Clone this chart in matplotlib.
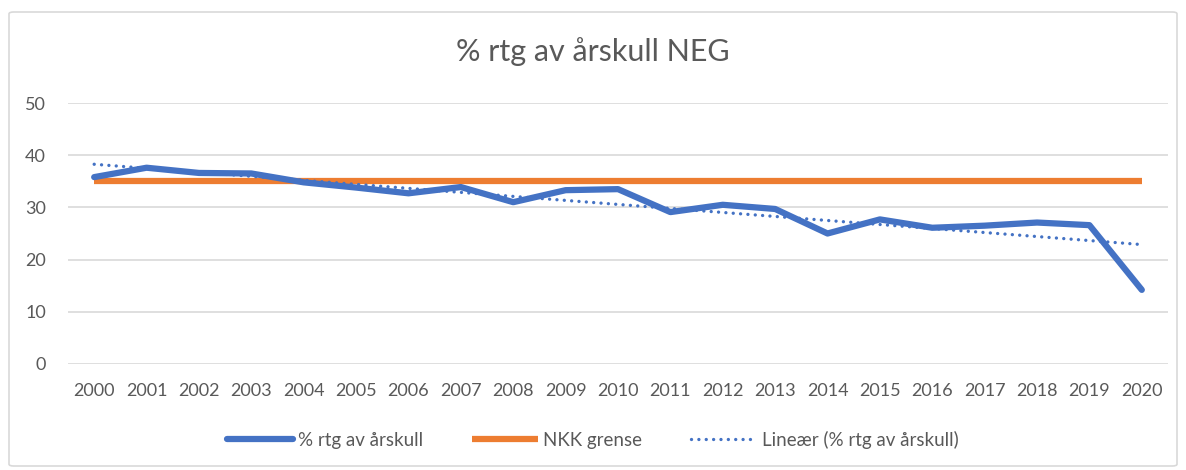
import numpy as np
import matplotlib
matplotlib.use("Agg")
import matplotlib.pyplot as plt
from matplotlib.patches import FancyBboxPatch

plt.rcParams['font.family'] = ['Lato', 'DejaVu Sans']

years = [str(y) for y in range(2000, 2021)]
rtg = [35.8, 37.6, 36.6, 36.5, 34.8, 33.8, 32.7, 33.9, 31.0, 33.3, 33.5,
       29.1, 30.5, 29.7, 25.0, 27.7, 26.1, 26.5, 27.1, 26.6, 14.2]
nkk_grense = [35] * len(years)
yticks = [0, 10, 20, 30, 40, 50]

blue = "#4472C4"
orange = "#ED7D31"
grey_txt = "#595959"

fig = plt.figure(figsize=(11.86, 4.70), dpi=100)
fig.patches.append(FancyBboxPatch((9 / 1186, 4 / 470), 1168 / 1186, 454 / 470,
                                  boxstyle="round,pad=0,rounding_size=0.004",
                                  transform=fig.transFigure, fc="none",
                                  ec="#D9D9D9", lw=1.2, zorder=-1))
ax = fig.add_axes([68 / 1186, 106 / 470, 1100 / 1186, 261 / 470])
ax.patch.set_alpha(0)

x = np.arange(len(years))
# Excel-style linear trendline of the series
k, m = np.polyfit(x, rtg, 1)
trend = k * x + m

ax.plot(x, rtg, color=blue, lw=4.5, solid_capstyle="round",
        solid_joinstyle="round", label="% rtg av årskull", zorder=3)
ax.plot(x, nkk_grense, color=orange, lw=4.5, solid_capstyle="butt",
        label="NKK grense", zorder=2)
ax.plot(x, trend, color=blue, lw=2.4, linestyle=(0, (0.01, 2.2)),
        dash_capstyle="round", label="Lineær (% rtg av årskull)", zorder=4)

ax.set_xlim(-0.5, len(years) - 0.5)
ax.set_ylim(0, 50)
ax.set_xticks(x)
ax.set_xticklabels(years)
ax.set_yticks(yticks)
ax.grid(axis="y", color="#D9D9D9", lw=1.2)
ax.set_axisbelow(True)
for s in ax.spines.values():
    s.set_visible(False)
ax.tick_params(length=0, labelsize=13, colors=grey_txt, pad=14)
ax.tick_params(axis="y", pad=16)

fig.text(0.5, 1 - 52 / 470, "% rtg av årskull NEG", ha="center", va="center",
         fontsize=22, color=grey_txt)

fig.legend(loc="center", bbox_to_anchor=(0.5, 1 - 440 / 470), ncol=3,
           frameon=False, fontsize=13.5, labelcolor=grey_txt, handlelength=3.5,
           handletextpad=0.3, columnspacing=2.6)

fig.savefig("out.png", dpi=100)
